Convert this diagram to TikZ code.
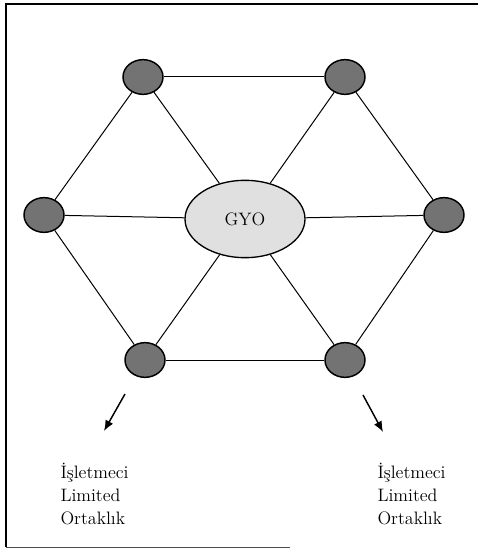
\documentclass[tikz,border=0pt]{standalone}
\usepackage{fontspec}
\usetikzlibrary{arrows.meta,shapes.geometric}

\tikzset{every picture/.style={line width=0.75pt}}
\tikzset{
  partner/.style={ellipse, draw, line width=1.1pt, fill=black!55, inner sep=0pt,
    minimum width=30pt, minimum height=26pt},
  gyobox/.style={ellipse, draw, line width=1pt, fill=black!12, inner sep=0pt,
    minimum width=90pt, minimum height=58pt, font=\fontsize{13.5pt}{16pt}\selectfont},
  link/.style={line width=0.75pt},
  outarrow/.style={line width=1.1pt, -{Latex[length=8pt,width=6.5pt]}},
  ortaklik/.style={anchor=west, inner sep=0pt, align=left,
    font=\fontsize{13.5pt}{17.25pt}\selectfont}
}

\begin{document}
\begin{tikzpicture}[x=0.75pt,y=0.75pt,yscale=-1,xscale=1]
\useasboundingbox (0,0) rectangle (478,549);

%Shape: Frame
\draw [line width=1.5pt] (478,4) -- (6,4) -- (6,547) ;
\draw [line width=0.6pt, black!70] (6,547) -- (290,547) ;

%Shape: Ellipse (center)
\node [gyobox] (gyo) at (245,219) {GYO};

%Shape: Ellipse (hexagon corners)
\node [partner] (tl) at (143,77) {};
\node [partner] (tr) at (345,77) {};
\node [partner] (l) at (44,215) {};
\node [partner] (r) at (444,215) {};
\node [partner] (bl) at (145,360) {};
\node [partner] (br) at (345,360) {};

%Straight Lines (outer ring)
\draw [link] (tl) -- (tr) ;
\draw [link] (tr) -- (r) ;
\draw [link] (r) -- (br) ;
\draw [link] (br) -- (bl) ;
\draw [link] (bl) -- (l) ;
\draw [link] (l) -- (tl) ;

%Straight Lines (spokes)
\draw [link] (tl) -- (gyo) ;
\draw [link] (tr) -- (gyo) ;
\draw [link] (l) -- (gyo) ;
\draw [link] (r) -- (gyo) ;
\draw [link] (bl) -- (gyo) ;
\draw [link] (br) -- (gyo) ;

%Straight Lines (arrows)
\coordinate (arrL0) at (125,394) ;
\coordinate (arrL1) at (104,431) ;
\coordinate (arrR0) at (363,395) ;
\coordinate (arrR1) at (383,432) ;
\draw [outarrow] (arrL0) -- (arrL1) ;
\draw [outarrow] (arrR0) -- (arrR1) ;

% Text Node
\node [ortaklik] (ltdL) at (60,494) {İşletmeci\\Limited\\Ortaklık};
% Text Node
\node [ortaklik] (ltdR) at (377,494) {İşletmeci\\Limited\\Ortaklık};

\end{tikzpicture}
\end{document}
